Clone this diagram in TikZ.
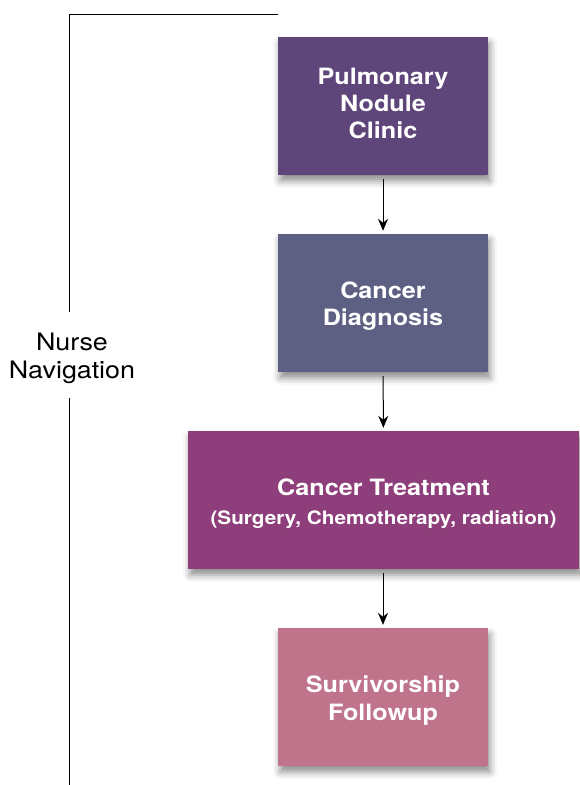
\documentclass[tikz,border=0pt]{standalone}
\usepackage{fontspec}
\setmainfont{TeX Gyre Heros}[FakeStretch=1.12]
\usetikzlibrary{arrows.meta,shadows.blur}
\definecolor{cA}{RGB}{94,69,122}
\definecolor{cB}{RGB}{94,96,131}
\definecolor{cC}{RGB}{142,62,122}
\definecolor{cD}{RGB}{192,116,139}
\tikzset{
  box/.style={minimum height=138pt, align=center, text=white, inner sep=0pt,
    font=\bfseries\fontsize{22.5}{27}\selectfont,
    blur shadow={shadow xshift=2pt, shadow yshift=-6pt, shadow blur radius=7pt, shadow opacity=45}},
  flow/.style={line width=1pt, -{Stealth[length=12pt,width=10pt,inset=4pt]}, shorten <=4pt, shorten >=3pt},
  bracket/.style={line width=1pt}
}
\begin{document}
\begin{tikzpicture}[x=1pt,y=-1pt]
\useasboundingbox (0,0) rectangle (579,785);
\node[box, fill=cA, minimum width=210pt] (b1) at (383,106) {Pulmonary\\Nodule\\Clinic\rule[-6pt]{0pt}{6pt}};
\node[box, fill=cB, minimum width=210pt] (b2) at (383,303) {\rule{0pt}{23.5pt}Cancer\\Diagnosis};
\node[box, fill=cC, minimum width=391pt] (b3) at (383.5,500) {\rule{0pt}{23.5pt}Cancer Treatment\\[2pt]{\fontsize{18.5}{22}\selectfont(Surgery, Chemotherapy, radiation)}};
\node[box, fill=cD, minimum width=210pt] (b4) at (383,697) {\rule{0pt}{24pt}Survivorship\\[1pt]Followup};
\node[align=center, font=\fontsize{24}{28}\selectfont, inner sep=0pt] (nav) at (72,358) {Nurse\\Navigation};
\coordinate (tl) at (69,14);
\coordinate (tr) at (278,14);
\coordinate (bt) at (69,785);
\draw[bracket] (tr) -- (tl) -- (tl |- 0,312);
\draw[bracket] (tl |- 0,398) -- (bt);
\draw[flow] (b1) -- (b2);
\draw[flow] (b2) -- (b3);
\draw[flow] (b3.south -| b4) -- (b4);
\end{tikzpicture}
\end{document}
